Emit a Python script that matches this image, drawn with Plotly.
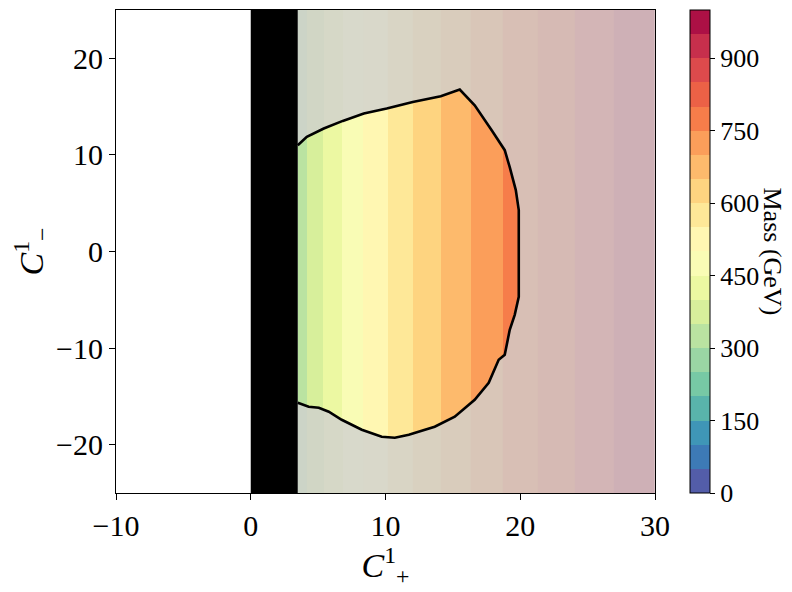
import numpy as np
import plotly.graph_objects as go

# ---------------- data ----------------
# vertical mass bands: edges in C+ and mass level (centre of each 50 GeV level)
band_edges = [3.49, 4.16, 5.39, 6.80, 8.36, 10.14, 12.02, 14.10, 16.33, 18.70, 21.30, 24.02, 26.94, 30.0]
band_mass = [325, 375, 425, 475, 525, 575, 625, 675, 725, 775, 825, 875, 925]

# excluded (black) strip
black_x = [0.0, 3.49]

# boundary of allowed region (C+, C-), traced clockwise from top-left
contour_x = [3.49, 4.16, 5.42, 6.83, 8.39, 10.09, 12.02, 14.10, 15.51, 16.62, 17.88, 18.85,
             19.22, 19.67, 19.89, 19.89, 19.59, 19.22, 18.85, 18.40, 17.66, 16.62, 15.14,
             13.65, 11.73, 10.69, 9.72, 8.24, 6.75, 5.79, 5.05, 4.30, 3.49]
contour_y = [11.0, 11.87, 12.73, 13.52, 14.28, 14.80, 15.48, 16.07, 16.77, 15.14, 12.56, 10.49,
             8.73, 6.36, 4.29, -4.70, -6.56, -8.11, -10.70, -11.21, -13.59, -15.35, -17.11,
             -18.14, -18.97, -19.28, -19.17, -18.45, -17.42, -16.59, -16.18, -16.07, -15.66]

cbar_ticks = [0, 150, 300, 450, 600, 750, 900]

# ---------------- colours ----------------
spectral = ["#9e0142", "#d53e4f", "#f46d43", "#fdae61", "#fee08b", "#ffffbf",
            "#e6f598", "#abdda4", "#66c2a5", "#3288bd", "#5e4fa2"][::-1]


def hex2rgb(h):
    return np.array([int(h[i:i + 2], 16) for i in (1, 3, 5)], dtype=float)


def sample(t):
    p = t * (len(spectral) - 1)
    i = min(int(np.floor(p)), len(spectral) - 2)
    f = p - i
    return (1 - f) * hex2rgb(spectral[i]) + f * hex2rgb(spectral[i + 1])


nlev = 20
lev_cols = [sample((i + 0.5) / nlev) for i in range(nlev)]
grey = np.array([208.0, 208.0, 208.0])
alpha = 0.2


def rgb(c):
    return "rgb(%d,%d,%d)" % tuple(np.clip(np.round(c), 0, 255))


def discrete(cols):
    cs = []
    for i, c in enumerate(cols):
        cs.append([i / nlev, rgb(c)])
        cs.append([(i + 1) / nlev, rgb(c)])
    return cs


cs_full = discrete(lev_cols)
cs_faded = discrete([alpha * c + (1 - alpha) * grey for c in lev_cols])

# ---------------- inside region grid ----------------
dx, dy = 0.05, 0.08
xe = np.arange(band_edges[0], max(contour_x) + dx, dx)
ye = np.arange(min(contour_y) - dy, max(contour_y) + dy, dy)
xc = 0.5 * (xe[:-1] + xe[1:])
yc = 0.5 * (ye[:-1] + ye[1:])
X, Y = np.meshgrid(xc, yc)

px_ = np.array(contour_x)
py_ = np.array(contour_y)
inside = np.zeros(X.shape, dtype=bool)
n = len(px_)
for i in range(n):
    x1, y1 = px_[i], py_[i]
    x2, y2 = px_[(i + 1) % n], py_[(i + 1) % n]
    cond = (y1 > Y) != (y2 > Y)
    with np.errstate(divide="ignore", invalid="ignore"):
        xint = x1 + (Y - y1) * (x2 - x1) / (y2 - y1)
    inside ^= cond & (X < xint)

idx = np.clip(np.searchsorted(band_edges, xc, side="right") - 1, 0, len(band_mass) - 1)
Zrow = np.array(band_mass, dtype=float)[idx]
Z = np.where(inside, Zrow[None, :], np.nan)
Zlist = [[None if np.isnan(v) else float(v) for v in row] for row in Z]

fig = go.Figure()

# faded background bands
fig.add_trace(go.Heatmap(
    x=band_edges, y=[-25, 25], z=[band_mass],
    zmin=0, zmax=1000, colorscale=cs_faded, showscale=False, hoverinfo="skip"))

# allowed region in full colour
fig.add_trace(go.Heatmap(
    x=xe.tolist(), y=ye.tolist(), z=Zlist,
    zmin=0, zmax=1000, colorscale=cs_full, hoverinfo="skip",
    colorbar=dict(
        x=(690 - 116) / 539, xanchor="left", xref="paper",
        y=0.5, yanchor="middle", len=1.0, lenmode="fraction",
        thickness=20, outlinecolor="black", outlinewidth=1,
        tickvals=cbar_ticks, ticks="outside", ticklen=5, tickcolor="black",
        tickfont=dict(family="Liberation Serif", size=26, color="black"),
        ypad=0, xpad=0)))

# black excluded strip
fig.add_trace(go.Heatmap(
    x=black_x, y=[-25, 25], z=[[1]],
    colorscale=[[0, "black"], [1, "black"]], showscale=False, hoverinfo="skip"))

# contour outline
fig.add_trace(go.Scatter(
    x=contour_x, y=contour_y, mode="lines",
    line=dict(color="black", width=2.6), hoverinfo="skip", showlegend=False))

axis_common = dict(
    showgrid=False, zeroline=False, showline=True, mirror=True,
    linecolor="black", linewidth=1, ticks="outside", ticklen=6, tickcolor="black",
    tickfont=dict(family="Liberation Serif", size=30, color="black"))

fig.update_layout(
    width=784, height=584,
    margin=dict(l=108, r=137, t=2, b=99),
    plot_bgcolor="white", paper_bgcolor="white",
    xaxis=dict(range=[-10, 30], tickvals=[-10, 0, 10, 20, 30],
               title=dict(text="<i>C</i><sup>1</sup><sub>+</sub>",
                          font=dict(family="Liberation Serif", size=34, color="black"),
                          standoff=4),
               **axis_common),
    yaxis=dict(range=[-25, 25], tickvals=[-20, -10, 0, 10, 20],
               title=dict(text="<i>C</i><sup>1</sup><sub>−</sub>",
                          font=dict(family="Liberation Serif", size=34, color="black"),
                          standoff=10),
               **axis_common),
    showlegend=False,
    annotations=[dict(
        text="Mass (GeV)", textangle=90, showarrow=False,
        xref="paper", yref="paper", x=(772 - 116) / 539, y=0.50,
        xanchor="center", yanchor="middle",
        font=dict(family="Liberation Serif", size=26, color="black"))],
)

fig.write_html("out.html")
